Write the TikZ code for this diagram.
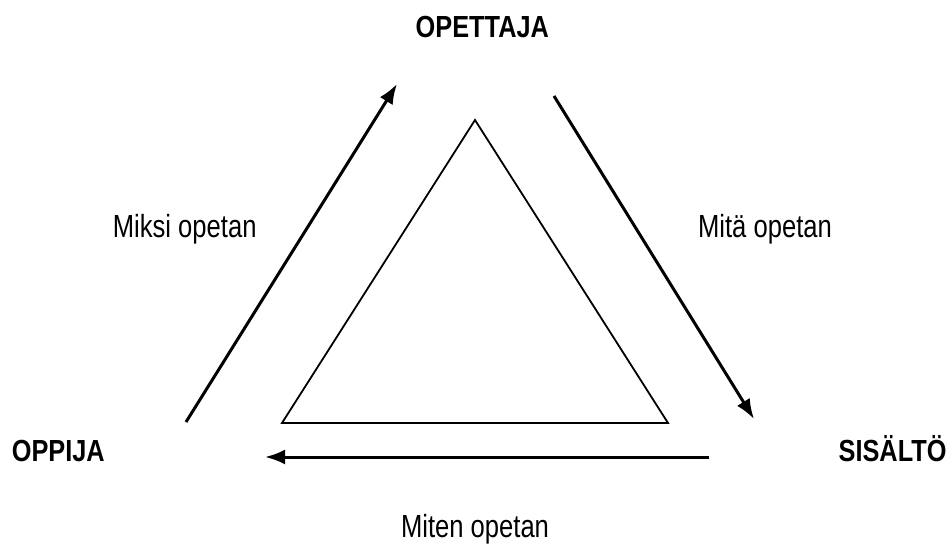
\documentclass[tikz,border=0pt]{standalone}
\usepackage{fontspec}
\setmainfont{Liberation Sans}
\newfontfamily\narrowreg[FakeStretch=0.8]{Liberation Sans}
\newfontfamily\narrowbold[FakeStretch=0.83]{Liberation Sans Bold}
\usetikzlibrary{arrows.meta}
\begin{document}
\begin{tikzpicture}[x=1pt,y=-1pt,
  lbl/.style={font=\narrowreg\fontsize{32}{36}\selectfont, inner sep=0pt},
  head/.style={font=\narrowbold\fontsize{30.5}{34}\selectfont, inner sep=0pt},
  conn/.style={line width=3pt,-{Latex[length=20pt,width=15pt]}},
  tri/.style={line width=1.8pt}]
\useasboundingbox (0,0) rectangle (952,545);
\node[head, anchor=base] (opettaja) at (482.3,37.3) {OPETTAJA};
\node[head, anchor=base west] (oppija) at (11.7,461) {OPPIJA};
\node[head, anchor=base east] (sisalto) at (946.7,461) {SISÄLTÖ};
\node[lbl, anchor=base] (miksi) at (184.7,237.3) {Miksi opetan};
\node[lbl, anchor=base] (mita) at (765,237.3) {Mitä opetan};
\node[lbl, anchor=base] (miten) at (475,537.5) {Miten opetan};
\coordinate (t1) at (475,120);
\coordinate (t2) at (282,423);
\coordinate (t3) at (668,423);
\draw[tri] (t1) -- (t2) -- (t3) -- cycle;
\coordinate (a1s) at (186,422);
\coordinate (a1e) at (397,84);
\coordinate (a2s) at (554,96);
\coordinate (a2e) at (754,419);
\coordinate (a3s) at (709,457);
\coordinate (a3e) at (265,457);
\draw[conn] (a1s) -- (a1e);
\draw[conn] (a2s) -- (a2e);
\draw[conn] (a3s) -- (a3e);
\end{tikzpicture}
\end{document}
